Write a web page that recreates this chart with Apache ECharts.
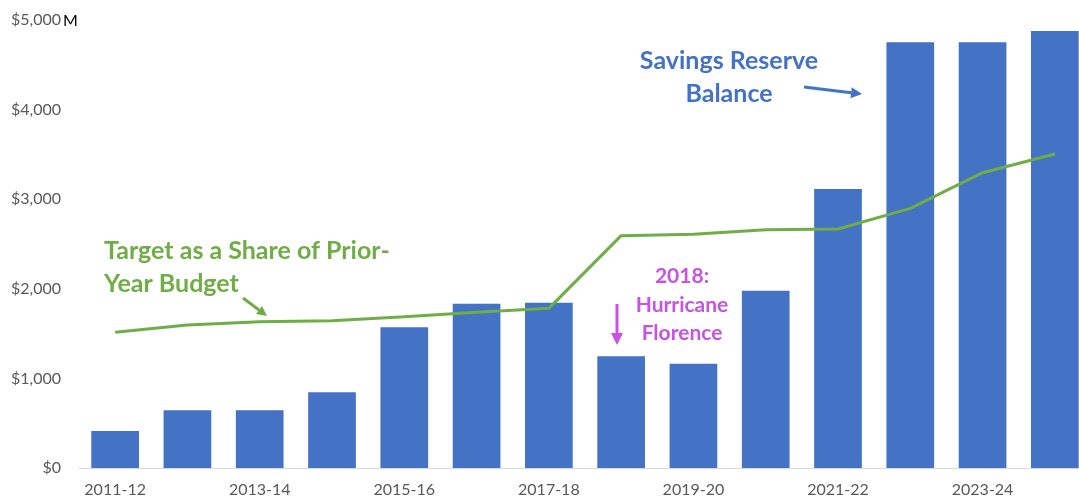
<!DOCTYPE html>
<html><head><meta charset="utf-8">
<script src="https://cdn.jsdelivr.net/npm/echarts@6/dist/echarts.min.js"></script>
<style>html,body{margin:0;padding:0;background:#fff;overflow:hidden}#c{width:1091px;height:502px}</style>
</head><body><div id="c"></div>
<script>
const categories = ['2011-12','2012-13','2013-14','2014-15','2015-16','2016-17','2017-18','2018-19','2019-20','2020-21','2021-22','2022-23','2023-24','2024-25'];
const reserveBalance = [413, 644, 644, 845, 1570, 1834, 1845, 1247, 1164, 1977, 3114, 4751, 4751, 4877];
const targetShare = [1514, 1596, 1633, 1644, 1689, 1738, 1782, 2593, 2608, 2660, 2667, 2898, 3296, 3504];
const yTicks = [0, 1000, 2000, 3000, 4000, 5000];

const FONT = 'Lato';
const chart = echarts.init(document.getElementById('c'));
function arrow(x1, y1, x2, y2, color, w, head) {
  const a = Math.atan2(y2 - y1, x2 - x1);
  const bx = x2 - head * Math.cos(a), by = y2 - head * Math.sin(a);
  const hw = head * 0.5;
  return [
    {type:'line', shape:{x1:x1, y1:y1, x2:bx, y2:by}, style:{stroke:color, lineWidth:w}},
    {type:'polygon', shape:{points:[[x2,y2],[bx - hw*Math.sin(a), by + hw*Math.cos(a)],[bx + hw*Math.sin(a), by - hw*Math.cos(a)]]}, style:{fill:color}}
  ];
}
function label(text, x, y, color, size, align) {
  return {type:'text', x: x, y: y, style:{text: text, fill: color, font: 'bold ' + size + 'px ' + FONT, align: align, verticalAlign: 'middle'}};
}
const GREEN = '#70AD47', BLUE = '#4472C4', PURPLE = '#C653E3';
chart.setOption({
  animation: false,
  textStyle: {fontFamily: FONT},
  grid: {left: 79, right: 0, top: 20, bottom: 34, containLabel: false},
  xAxis: {
    type: 'category', data: categories,
    axisLine: {lineStyle: {color: '#D9D9D9', width: 1}},
    axisTick: {show: false},
    axisLabel: {interval: 1, color: '#595959', fontSize: 16, fontFamily: FONT, margin: 14}
  },
  yAxis: {
    type: 'value', min: yTicks[0], max: yTicks[yTicks.length-1], interval: 1000,
    splitLine: {show: false},
    axisLine: {show: false}, axisTick: {show: false},
    axisLabel: {color: '#595959', fontSize: 16, fontFamily: FONT, margin: 18,
      formatter: v => '$' + v.toLocaleString('en-US')}
  },
  series: [
    {type: 'bar', data: reserveBalance, barWidth: '66%',
     itemStyle: {color: BLUE}},
    {type: 'line', data: targetShare, symbol: 'none',
     lineStyle: {color: GREEN, width: 3}}
  ],
  graphic: [
    {type:'text', x: 63, y: 21, style:{text:'M', fill:'#000', font:'16px ' + FONT, verticalAlign:'middle'}},
    label('Target as a Share of Prior-', 104, 251, GREEN, 25, 'left'),
    label('Year Budget', 104, 284, GREEN, 25, 'left'),
    label('Savings Reserve', 729, 61, BLUE, 25, 'center'),
    label('Balance', 729, 94, BLUE, 25, 'center'),
    label('2018:', 682, 276, PURPLE, 21, 'center'),
    label('Hurricane', 682, 305, PURPLE, 21, 'center'),
    label('Florence', 682, 333, PURPLE, 21, 'center'),
    ...arrow(243, 298, 267, 316, GREEN, 3, 10),
    ...arrow(804, 87, 862, 94, BLUE, 3, 11),
    ...arrow(617, 304, 617, 345, PURPLE, 3, 12)
  ]
});
</script></body></html>
